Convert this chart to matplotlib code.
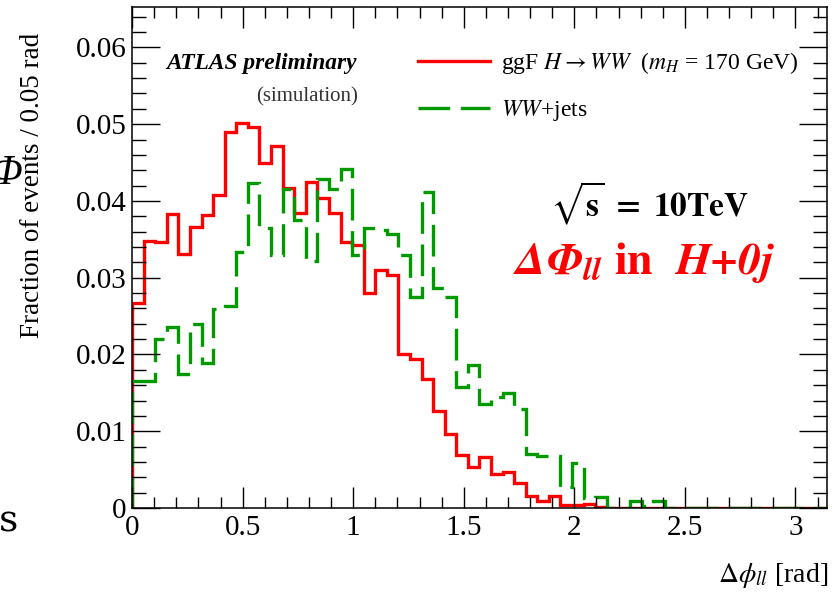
import numpy as np
import matplotlib
matplotlib.use("Agg")
import matplotlib.pyplot as plt
from matplotlib.ticker import MultipleLocator, FormatStrFormatter

plt.rcParams['font.family'] = ['Liberation Serif', 'DejaVu Serif']
plt.rcParams['mathtext.fontset'] = 'stix'

# 60 bins of pi/60 between 0 and pi
n_bins = 60
x_min, x_max = 0.0, np.pi

# ggF H -> WW (mH = 170 GeV)
higgs = [0.0267, 0.0348, 0.0346, 0.0383, 0.0331, 0.0366, 0.0382, 0.0408, 0.0490, 0.0501,
         0.0496, 0.0450, 0.0471, 0.0417, 0.0384, 0.0425, 0.0404, 0.0384, 0.0347, 0.0343,
         0.0280, 0.0310, 0.0303, 0.0200, 0.0194, 0.0168, 0.0126, 0.0096, 0.0069, 0.0053,
         0.0066, 0.0044, 0.0047, 0.0032, 0.0015, 0.0009, 0.0016, 0.0004, 0.0004, 0.0005,
         0.0001, 0.0, 0.0, 0.0, 0.0, 0.0, 0.0, 0.0, 0.0, 0.0,
         0.0, 0.0, 0.0, 0.0, 0.0, 0.0, 0.0, 0.0, 0.0, 0.0]

# WW + jets
wwjets = [0.0165, 0.0165, 0.0220, 0.0236, 0.0174, 0.0240, 0.0189, 0.0259, 0.0263, 0.0334,
          0.0424, 0.0365, 0.0330, 0.0416, 0.0375, 0.0322, 0.0429, 0.0415, 0.0441, 0.0330,
          0.0365, 0.0362, 0.0357, 0.0330, 0.0275, 0.0412, 0.0286, 0.0275, 0.0157, 0.0186,
          0.0135, 0.0145, 0.0150, 0.0129, 0.0070, 0.0068, 0.0068, 0.0028, 0.0059, 0.0013,
          0.0014, 0.0, 0.0, 0.0009, 0.0003, 0.0009, 0.0, 0.0, 0.0, 0.0,
          0.0, 0.0, 0.0, 0.0, 0.0, 0.0, 0.0, 0.0, 0.0, 0.0]

edges = np.linspace(x_min, x_max, n_bins + 1)

fig = plt.figure(figsize=(8.36, 5.95), dpi=100)
ax = fig.add_axes([0.158, 0.1462, 0.831, 0.8412])

ax.stairs(higgs, edges, color='#ff0000', lw=2.4,
          label=r'ggF $H \rightarrow WW$  ($m_{H}$ = 170 GeV)')
ax.stairs(wwjets, edges, color='#009900', lw=2.4, linestyle=(0, (9.5, 3.2)),
          label=r'$WW$+jets')

ax.set_xlim(x_min, x_max)
ax.set_ylim(0, 0.0652)

ax.xaxis.set_major_locator(MultipleLocator(0.5))
ax.xaxis.set_minor_locator(MultipleLocator(0.1))
ax.yaxis.set_major_locator(MultipleLocator(0.01))
ax.yaxis.set_minor_locator(MultipleLocator(0.002))
ax.xaxis.set_major_formatter(FormatStrFormatter('%g'))
ax.yaxis.set_major_formatter(FormatStrFormatter('%g'))

ax.tick_params(which='both', direction='in', top=True, right=True, labelsize=21)
ax.tick_params(which='major', length=15, width=1)
ax.tick_params(which='minor', length=8, width=1)
ax.tick_params(axis='y', which='major', length=20, pad=4)
ax.tick_params(axis='y', which='minor', length=10)
ax.tick_params(axis='x', pad=5)
for s in ax.spines.values():
    s.set_linewidth(1.1)

# legend
ax.legend(loc='upper left', bbox_to_anchor=(0.411, 0.915), frameon=False,
          borderpad=0, borderaxespad=0,
          fontsize=17, handlelength=3.05, handletextpad=0.5, labelspacing=0.95)

# labels
fig.text(33 / 836, 1 - 185 / 595, 'Fraction of events / 0.05 rad', rotation=90,
         ha='center', va='center', fontsize=19.5)
fig.text(828 / 836, 1 - 576 / 595, r'$\Delta\phi_{ll}$ [rad]', ha='right',
         va='center', fontsize=20)

ax.text(0.049, 0.889, 'ATLAS preliminary', transform=ax.transAxes,
        fontsize=16.8, fontweight='bold', fontstyle='italic', va='center')
ax.text(0.178, 0.821, '(simulation)', transform=ax.transAxes,
        fontsize=15, va='center', color='#333333')

ax.text(0.745, 0.609, r'$\mathbf{\sqrt{s}\ =\ 10TeV}$', transform=ax.transAxes,
        fontsize=24, ha='center', va='center')
ax.text(0.737, 0.49, r'$\mathbfit{\Delta\Phi_{ll}}$ $\mathbf{in}$  $\mathbfit{H{+}0j}$',
        transform=ax.transAxes, color='#ff0000', fontsize=33, ha='center', va='center')

# cropped slide characters at the left edge
fig.text(-9 / 836, 1 - 174 / 595, 'Φ', fontsize=30, fontstyle='italic',
         ha='left', va='center')
fig.text(-1 / 836, 1 - 521 / 595, 's', fontsize=27, ha='left', va='center',
         family='DejaVu Serif')

fig.savefig('out.png', dpi=100)
